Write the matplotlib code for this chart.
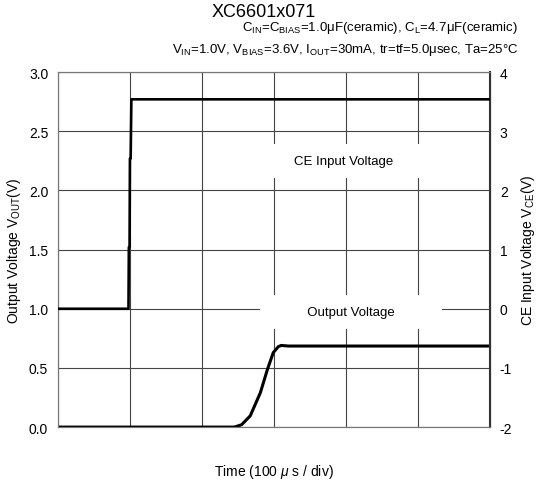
import numpy as np
import matplotlib
matplotlib.use("Agg")
import matplotlib.pyplot as plt

plt.rcParams['font.family'] = ['Liberation Sans', 'DejaVu Sans']
plt.rcParams['mathtext.fontset'] = 'custom'
plt.rcParams['mathtext.rm'] = 'Liberation Sans'
plt.rcParams['mathtext.it'] = 'Liberation Sans:italic'
plt.rcParams['mathtext.default'] = 'regular'

# time in divisions (100 us / div)
t_ce = [0, 0.98, 0.985, 0.995, 1.0, 1.01, 1.02, 6]
v_ce = [0.0, 0.0, 1.04, 1.04, 2.54, 2.54, 3.54, 3.54]

t_out = [0, 2.45, 2.55, 2.67, 2.81, 2.91, 2.99, 3.06, 3.1, 3.2, 6]
v_out = [0, 0.0, 0.02, 0.095, 0.29, 0.49, 0.63, 0.68, 0.69, 0.685, 0.685]

left_ticks = [0.0, 0.5, 1.0, 1.5, 2.0, 2.5, 3.0]
right_ticks = [-2, -1, 0, 1, 2, 3, 4]

fig = plt.figure(figsize=(5.41, 4.81), dpi=100)
ax = fig.add_axes([0.107, 0.110, 0.799, 0.738])
ax2 = ax.twinx()

ax.set_xlim(0, 6)
ax.set_ylim(0, 3.0)
ax2.set_ylim(-2, 4)
ax.set_xticks(np.arange(0, 7, 1))
ax.set_xticklabels([])
ax.set_yticks(left_ticks)
ax.set_yticklabels([f"{v:.1f}" for v in left_ticks])
ax2.set_yticks(right_ticks)
ax2.set_yticklabels([str(v) for v in right_ticks])

ax.grid(True, color='#444444', lw=0.8)
ax.tick_params(length=0, labelsize=10, pad=7)
ax2.tick_params(length=0, labelsize=10, pad=7)

for s in ['left', 'top', 'bottom']:
    ax.spines[s].set_color('#777777')
    ax2.spines[s].set_color('#777777')
ax2.spines['right'].set_color('#333333')
ax2.spines['right'].set_linewidth(1.5)

ax.plot(t_out, v_out, color='black', lw=2.2, zorder=5)
ax2.plot(t_ce, v_ce, color='black', lw=1.9, zorder=5)

ax.text(3.97, 2.25, "        CE Input Voltage        ", ha='center', va='center',
        fontsize=9.5, bbox=dict(facecolor='white', edgecolor='none', pad=8), zorder=4)
ax.text(4.07, 0.97, "          Output Voltage          ", ha='center', va='center',
        fontsize=9.5, bbox=dict(facecolor='white', edgecolor='none', pad=8), zorder=4)

ax.set_ylabel("Output Voltage V$_{OUT}$(V)", fontsize=10, labelpad=4)
ax2.set_ylabel("CE Input Voltage V$_{CE}$(V)", fontsize=10, labelpad=5)
ax.set_xlabel("Time (100 $\\mathit{\\mu}$ s / div)", fontsize=10, labelpad=18)

fig.text(0.488, 0.974, "XC6601x071", ha='center', va='center', fontsize=13)
fig.text(0.958, 0.942, "C$_{IN}$=C$_{BIAS}$=1.0μF(ceramic), C$_{L}$=4.7μF(ceramic)",
         ha='right', va='center', fontsize=9.5)
fig.text(0.958, 0.896, "V$_{IN}$=1.0V, V$_{BIAS}$=3.6V, I$_{OUT}$=30mA, tr=tf=5.0μsec, Ta=25°C",
         ha='right', va='center', fontsize=9.5)

fig.savefig("out.png", dpi=100, facecolor='white')
